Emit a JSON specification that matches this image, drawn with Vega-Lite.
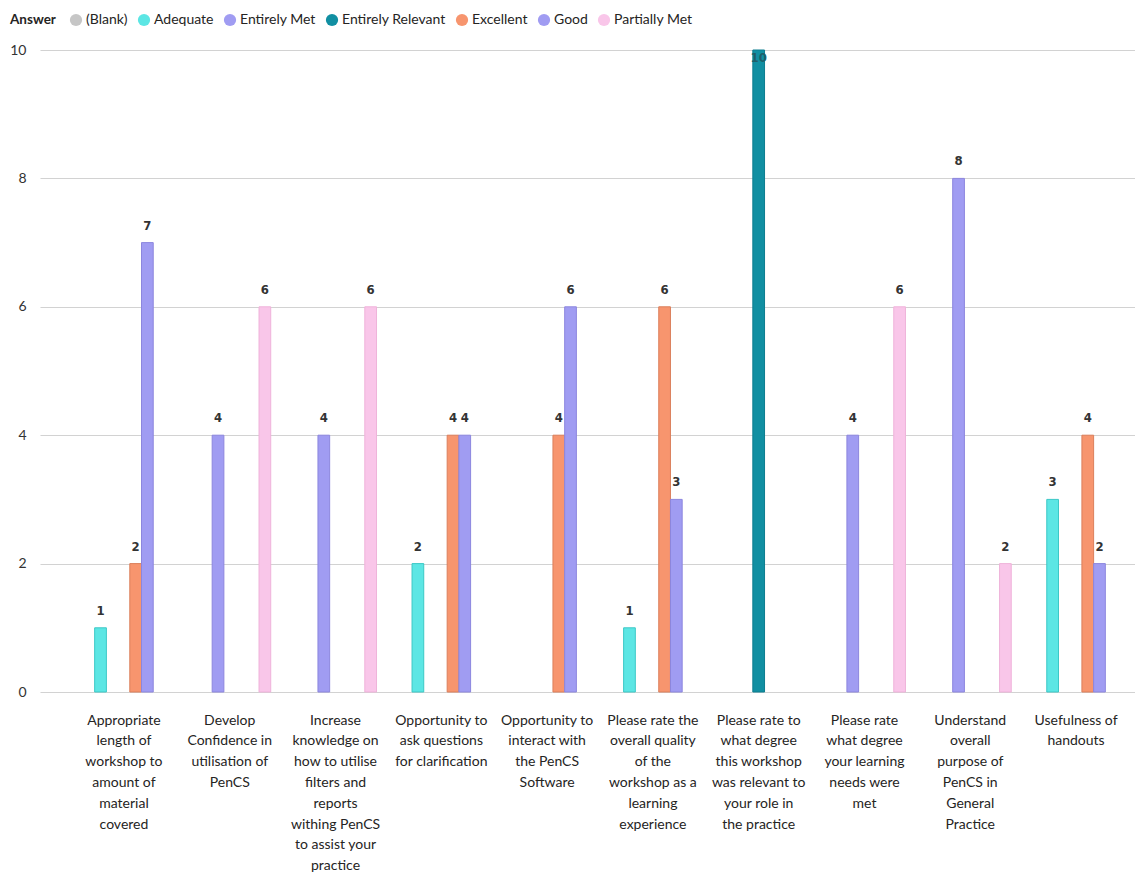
{
  "$schema": "https://vega.github.io/schema/vega-lite/v6.json",
  "width": 1095,
  "height": 642,
  "autosize": {"type": "none"},
  "padding": {"left": 40, "top": 50, "right": 0, "bottom": 188},
  "background": "white",
  "config": {
    "view": {"stroke": null},
    "font": "Lato"
  },
  "data": {
    "values": [
      {"question": "Appropriate length of workshop to amount of material covered", "answer": "Adequate", "count": 1},
      {"question": "Appropriate length of workshop to amount of material covered", "answer": "Excellent", "count": 2},
      {"question": "Appropriate length of workshop to amount of material covered", "answer": "Good", "count": 7},
      {"question": "Develop Confidence in utilisation of PenCS", "answer": "Entirely Met", "count": 4},
      {"question": "Develop Confidence in utilisation of PenCS", "answer": "Partially Met", "count": 6},
      {"question": "Increase knowledge on how to utilise filters and reports withing PenCS to assist your practice", "answer": "Entirely Met", "count": 4},
      {"question": "Increase knowledge on how to utilise filters and reports withing PenCS to assist your practice", "answer": "Partially Met", "count": 6},
      {"question": "Opportunity to ask questions for clarification", "answer": "Adequate", "count": 2},
      {"question": "Opportunity to ask questions for clarification", "answer": "Excellent", "count": 4},
      {"question": "Opportunity to ask questions for clarification", "answer": "Good", "count": 4},
      {"question": "Opportunity to interact with the PenCS Software", "answer": "Excellent", "count": 4},
      {"question": "Opportunity to interact with the PenCS Software", "answer": "Good", "count": 6},
      {"question": "Please rate the overall quality of the workshop as a learning experience", "answer": "Adequate", "count": 1},
      {"question": "Please rate the overall quality of the workshop as a learning experience", "answer": "Excellent", "count": 6},
      {"question": "Please rate the overall quality of the workshop as a learning experience", "answer": "Good", "count": 3},
      {"question": "Please rate to what degree this workshop was relevant to your role in the practice", "answer": "Entirely Relevant", "count": 10},
      {"question": "Please rate what degree your learning needs were met", "answer": "Entirely Met", "count": 4},
      {"question": "Please rate what degree your learning needs were met", "answer": "Partially Met", "count": 6},
      {"question": "Understand overall purpose of PenCS in General Practice", "answer": "Entirely Met", "count": 8},
      {"question": "Understand overall purpose of PenCS in General Practice", "answer": "Partially Met", "count": 2},
      {"question": "Usefulness of handouts", "answer": "Adequate", "count": 3},
      {"question": "Usefulness of handouts", "answer": "Excellent", "count": 4},
      {"question": "Usefulness of handouts", "answer": "Good", "count": 2}
    ]
  },
  "encoding": {
    "x": {
      "field": "question",
      "type": "nominal",
      "sort": null,
      "title": null,
      "scale": {"range": [0, 1120], "paddingInner": 0.225, "paddingOuter": 0.406},
      "axis": {
        "labelAngle": 0,
        "labelAlign": "center",
        "labelBaseline": "top",
        "labelPadding": 21,
        "labelFontSize": 14,
        "labelLineHeight": 20.8,
        "labelColor": "#252423",
        "labelLimit": 300,
        "labelOverlap": false,
        "labelBound": false,
        "domain": false,
        "ticks": false,
        "grid": false,
        "labelExpr": "datum.value == 'Appropriate length of workshop to amount of material covered' ? ['Appropriate', 'length of', 'workshop to', 'amount of', 'material', 'covered'] : datum.value == 'Develop Confidence in utilisation of PenCS' ? ['Develop', 'Confidence in', 'utilisation of', 'PenCS'] : datum.value == 'Increase knowledge on how to utilise filters and reports withing PenCS to assist your practice' ? ['Increase', 'knowledge on', 'how to utilise', 'filters and', 'reports', 'withing PenCS', 'to assist your', 'practice'] : datum.value == 'Opportunity to ask questions for clarification' ? ['Opportunity to', 'ask questions', 'for clarification'] : datum.value == 'Opportunity to interact with the PenCS Software' ? ['Opportunity to', 'interact with', 'the PenCS', 'Software'] : datum.value == 'Please rate the overall quality of the workshop as a learning experience' ? ['Please rate the', 'overall quality', 'of the', 'workshop as a', 'learning', 'experience'] : datum.value == 'Please rate to what degree this workshop was relevant to your role in the practice' ? ['Please rate to', 'what degree', 'this workshop', 'was relevant to', 'your role in', 'the practice'] : datum.value == 'Please rate what degree your learning needs were met' ? ['Please rate', 'what degree', 'your learning', 'needs were', 'met'] : datum.value == 'Understand overall purpose of PenCS in General Practice' ? ['Understand', 'overall', 'purpose of', 'PenCS in', 'General', 'Practice'] : ['Usefulness of', 'handouts']"
      }
    },
    "xOffset": {
      "field": "answer",
      "type": "nominal",
      "scale": {
        "domain": ["(Blank)", "Adequate", "Entirely Met", "Entirely Relevant", "Excellent", "Good", "Partially Met"],
        "paddingInner": 0,
        "paddingOuter": 0
      }
    },
    "y": {
      "field": "count",
      "type": "quantitative",
      "title": null,
      "scale": {"domain": [0, 10], "nice": false},
      "axis": {
        "values": [0, 2, 4, 6, 8, 10],
        "domain": false,
        "ticks": false,
        "labelPadding": 14,
        "labelFontSize": 14,
        "labelColor": "#333333",
        "gridColor": "#D2D2D2",
        "gridWidth": 1.2
      }
    }
  },
  "layer": [
    {
      "mark": {"type": "bar", "strokeWidth": 1},
      "encoding": {
        "fill": {
          "field": "answer",
          "type": "nominal",
          "scale": {
            "domain": ["(Blank)", "Adequate", "Entirely Met", "Entirely Relevant", "Excellent", "Good", "Partially Met"],
            "range": ["#C6C6C6", "#5CE6E4", "#A09CF2", "#118FA2", "#F7956E", "#A09CF2", "#F9C6E9"]
          },
          "legend": {
            "orient": "none",
            "legendX": -30,
            "legendY": -37,
            "direction": "horizontal",
            "columns": 7,
            "title": "Answer",
            "titleOrient": "left",
            "titleFontSize": 13.5,
            "titleFontWeight": "bold",
            "titleColor": "#252423",
            "titlePadding": 13,
            "labelFontSize": 14,
            "labelColor": "#252423",
            "symbolType": "circle",
            "symbolSize": 150,
            "symbolStrokeWidth": 0,
            "labelOffset": 3,
            "columnPadding": 9
          }
        },
        "stroke": {
          "field": "answer",
          "type": "nominal",
          "scale": {
            "domain": ["(Blank)", "Adequate", "Entirely Met", "Entirely Relevant", "Excellent", "Good", "Partially Met"],
            "range": ["#B0B0B0", "#3CC8C6", "#8C86DE", "#0D7D8F", "#DB7F5B", "#8C86DE", "#EFB3DA"]
          },
          "legend": null
        }
      }
    },
    {
      "transform": [{"filter": "datum.count < 10"}],
      "mark": {"type": "text", "dy": -10, "baseline": "bottom", "fontSize": 13, "fontWeight": "bold", "font": "DejaVu Sans Condensed", "color": "#333333"},
      "encoding": {"text": {"field": "count", "type": "quantitative"}}
    },
    {
      "transform": [{"filter": "datum.count >= 10"}],
      "mark": {"type": "text", "dy": 2, "baseline": "top", "fontSize": 13, "fontWeight": "bold", "font": "DejaVu Sans Condensed", "color": "#1F5F6A"},
      "encoding": {"text": {"field": "count", "type": "quantitative"}}
    }
  ]
}
